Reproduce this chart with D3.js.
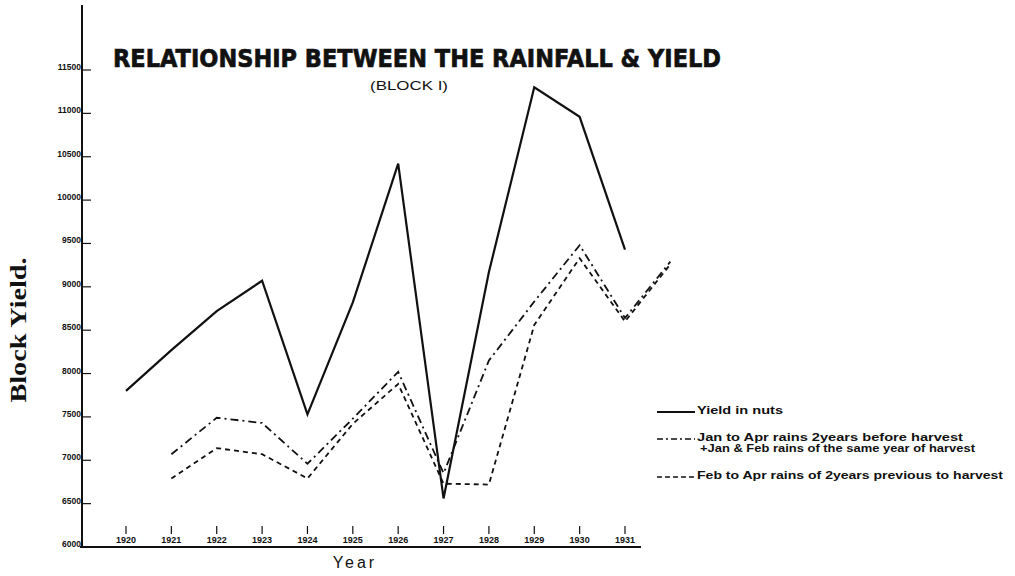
<!DOCTYPE html>
<html>
<head>
<meta charset="utf-8">
<script src="https://cdn.jsdelivr.net/npm/d3@7"></script>
<style>
  html, body { margin: 0; padding: 0; background: #fff; }
  svg { display: block; }
</style>
</head>
<body>
<svg id="chart" width="1015" height="576"></svg>
<script>
// ---- data ----
const years = [1920, 1921, 1922, 1923, 1924, 1925, 1926, 1927, 1928, 1929, 1930, 1931];
const yieldNuts = [7800, 8270, 8720, 9070, 7530, 8820, 10420, 6560, 9170, 11300, 10960, 9430];
const rainYears = [1921, 1922, 1923, 1924, 1925, 1926, 1927, 1928, 1929, 1930, 1931, 1932];
const rainJanAprPlusJanFeb = [7070, 7490, 7430, 6960, 7480, 8020, 6850, 8150, 8830, 9480, 8640, 9290];
const rainFebApr2YearsPrev = [6790, 7140, 7070, 6790, 7420, 7880, 6730, 6720, 8560, 9330, 8600, 9260];
const yTicks = [6000, 6500, 7000, 7500, 8000, 8500, 9000, 9500, 10000, 10500, 11000, 11500];
const xTickLabels = ["1920", "1921", "1922", "1923", "1924", "1925", "1926", "1927", "1928", "1929", "1930", "1931"];
const legendLabels = [
  ["Yield in nuts"],
  ["Jan to Apr rains 2years before harvest", "+Jan & Feb rains of the same year of harvest"],
  ["Feb to Apr rains of 2years previous to harvest"]
];

const svg = d3.select("#chart");
const x = d3.scaleLinear().domain([1920, 1931]).range([126, 625]);
const y = d3.scaleLinear().domain([6000, 11500]).range([547, 70]);
const ink = "#111";
const handFont = "'Liberation Sans', Arial, sans-serif";

// axes lines
svg.append("line").attr("x1", 82).attr("x2", 82).attr("y1", 5).attr("y2", 548)
  .attr("stroke", ink).attr("stroke-width", 2);
svg.append("line").attr("x1", 80).attr("x2", 641).attr("y1", 547).attr("y2", 547)
  .attr("stroke", ink).attr("stroke-width", 2);

// y ticks (inside) + labels (left)
const yt = svg.append("g");
yt.selectAll("line").data(yTicks).join("line")
  .attr("x1", 82).attr("x2", 91)
  .attr("y1", d => y(d)).attr("y2", d => y(d))
  .attr("stroke", ink).attr("stroke-width", 1.2);
yt.selectAll("text").data(yTicks).join("text")
  .attr("x", 81).attr("y", d => y(d))
  .attr("text-anchor", "end")
  .attr("font-family", handFont).attr("font-size", 8.5).attr("font-weight", "bold")
  .attr("fill", ink)
  .text(d => String(d));

// x ticks (above label) + labels sitting on the axis
const xt = svg.append("g");
xt.selectAll("line").data(years).join("line")
  .attr("x1", d => x(d)).attr("x2", d => x(d))
  .attr("y1", 526).attr("y2", 534)
  .attr("stroke", ink).attr("stroke-width", 1.2);
xt.selectAll("text").data(years).join("text")
  .attr("x", d => x(d)).attr("y", 543)
  .attr("text-anchor", "middle")
  .attr("font-family", handFont).attr("font-size", 9).attr("font-weight", "bold")
  .attr("fill", ink)
  .text((d, i) => xTickLabels[i]);

// lines
const line = d3.line().x(d => x(d[0])).y(d => y(d[1]));
svg.append("path")
  .attr("d", line(years.map((d, i) => [d, yieldNuts[i]])))
  .attr("fill", "none").attr("stroke", ink).attr("stroke-width", 2.2)
  .attr("stroke-linejoin", "miter");
svg.append("path")
  .attr("d", line(rainYears.map((d, i) => [d, rainJanAprPlusJanFeb[i]])))
  .attr("fill", "none").attr("stroke", ink).attr("stroke-width", 1.8)
  .attr("stroke-dasharray", "8,4,2,4");
svg.append("path")
  .attr("d", line(rainYears.map((d, i) => [d, rainFebApr2YearsPrev[i]])))
  .attr("fill", "none").attr("stroke", ink).attr("stroke-width", 1.8)
  .attr("stroke-dasharray", "5,4");

// title
svg.append("text").attr("x", 113).attr("y", 67)
  .attr("font-family", "'DejaVu Sans', sans-serif").attr("font-weight", "bold")
  .attr("font-size", 25).attr("fill", ink)
  .attr("stroke", ink).attr("stroke-width", 0.7)
  .attr("textLength", 608).attr("lengthAdjust", "spacingAndGlyphs")
  .text("RELATIONSHIP BETWEEN THE RAINFALL & YIELD");
svg.append("text").attr("x", 370).attr("y", 90)
  .attr("font-family", handFont).attr("font-size", 13).attr("fill", ink)
  .attr("textLength", 78).attr("lengthAdjust", "spacingAndGlyphs")
  .text("(BLOCK I)");

// axis titles
svg.append("text").attr("x", 355).attr("y", 568)
  .attr("text-anchor", "middle")
  .attr("font-family", handFont).attr("font-size", 16).attr("fill", ink)
  .attr("letter-spacing", 3)
  .text("Year");
svg.append("text")
  .attr("transform", "translate(26,330) rotate(-90)")
  .attr("text-anchor", "middle")
  .attr("font-family", "'Liberation Serif', 'Times New Roman', serif")
  .attr("font-weight", "bold").attr("font-size", 24).attr("fill", ink)
  .attr("textLength", 145).attr("lengthAdjust", "spacingAndGlyphs")
  .text("Block Yield.");

// legend
const legendStyles = [
  { dash: null, w: 2 },
  { dash: "6,3,2,3", w: 1.6 },
  { dash: "5,3", w: 1.6 }
];
const legendY = [412, 439, 477];
const legendTextW = [[86], [266, 275], [306]];
legendLabels.forEach((lines, i) => {
  const ly = legendY[i];
  svg.append("line").attr("x1", 657).attr("x2", 695).attr("y1", ly).attr("y2", ly)
    .attr("stroke", ink).attr("stroke-width", legendStyles[i].w)
    .attr("stroke-dasharray", legendStyles[i].dash);
  lines.forEach((t, j) => {
    svg.append("text")
      .attr("x", j === 0 ? 697 : 700).attr("y", ly + 2 + j * 11)
      .attr("font-family", handFont).attr("font-size", 10.5).attr("font-weight", "bold")
      .attr("fill", ink)
      .attr("textLength", legendTextW[i][j]).attr("lengthAdjust", "spacingAndGlyphs")
      .text(t);
  });
});
</script>
</body>
</html>
